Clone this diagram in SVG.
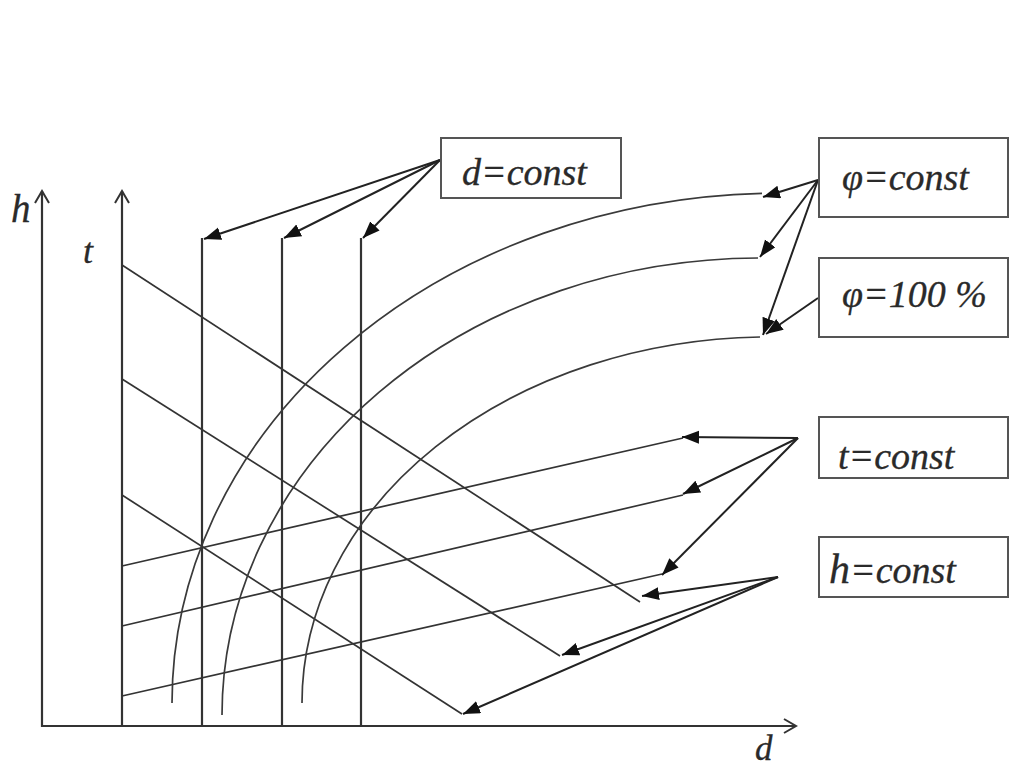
<svg xmlns="http://www.w3.org/2000/svg" width="1024" height="767" viewBox="0 0 1024 767">
<defs>
<marker id="ah" markerUnits="userSpaceOnUse" markerWidth="18" markerHeight="14" refX="17" refY="6.5" orient="auto">
<path d="M0,0 L17,6.5 L0,13 z" fill="#111"/>
</marker>
<marker id="open" markerUnits="userSpaceOnUse" markerWidth="16" markerHeight="18" refX="13" refY="8" orient="auto">
<path d="M1,1 L13,8 L1,15" fill="none" stroke="#333" stroke-width="2"/>
</marker>
<style>
.ax{stroke:#333;stroke-width:2.2;fill:none}
.ln{stroke:#333;stroke-width:1.7;fill:none}
.cv{stroke:#3a3a3a;stroke-width:1.7;fill:none}
.ar{stroke:#222;stroke-width:2;fill:none;marker-end:url(#ah)}
.box{fill:#fff;stroke:#555;stroke-width:2}
.lbl{font-family:"Liberation Serif",serif;font-style:italic;fill:#2a2a2a;stroke:#2a2a2a;stroke-width:0.3}
</style>
</defs>
<rect width="1024" height="767" fill="#fff"/>
<g id="axes">
<line class="ax" x1="42" y1="727" x2="42" y2="191" marker-end="url(#open)"/>
<line class="ax" x1="122" y1="727" x2="122" y2="191" marker-end="url(#open)"/>
<line class="ax" x1="42" y1="726" x2="796" y2="726" marker-end="url(#open)"/>
<text class="lbl" x="11" y="222" style="font-size:39px">h</text>
<text class="lbl" x="83" y="263" style="font-size:36px">t</text>
<text class="lbl" x="755" y="760" style="font-size:35px">d</text>
</g>
<g id="grid">
<line class="ax" x1="202" y1="238" x2="202" y2="726"/>
<line class="ax" x1="282" y1="238" x2="282" y2="726"/>
<line class="ax" x1="361" y1="238" x2="361" y2="726"/>
<line class="ln" x1="122" y1="566" x2="683" y2="438"/>
<line class="ln" x1="122" y1="626" x2="683" y2="495"/>
<line class="ln" x1="122" y1="696" x2="662" y2="574"/>
<line class="ln" x1="122" y1="265" x2="640" y2="602"/>
<line class="ln" x1="122" y1="379" x2="560" y2="656"/>
<line class="ln" x1="122" y1="495" x2="462" y2="714"/>
<path class="cv" d="M172,703 A608,510 0 0 1 762,193.3"/>
<path class="cv" d="M222,715 A538,457 0 0 1 758,258"/>
<path class="cv" d="M302,703 A468,366 0 0 1 760,337"/>
</g>
<g id="connectors">
<line class="ar" x1="440" y1="160" x2="204" y2="239"/>
<line class="ar" x1="440" y1="160" x2="284" y2="238"/>
<line class="ar" x1="440" y1="160" x2="363" y2="238"/>
<line class="ar" x1="818" y1="180" x2="763" y2="197"/>
<line class="ar" x1="818" y1="180" x2="760" y2="257"/>
<line class="ar" x1="818" y1="180" x2="763" y2="335"/>
<line class="ar" x1="818" y1="298" x2="766" y2="334"/>
<line class="ar" x1="798" y1="438" x2="682" y2="437"/>
<line class="ar" x1="798" y1="438" x2="683" y2="494"/>
<line class="ar" x1="798" y1="438" x2="662" y2="575"/>
<line class="ar" x1="778" y1="577" x2="642" y2="596"/>
<line class="ar" x1="778" y1="577" x2="562" y2="655"/>
<line class="ar" x1="778" y1="577" x2="463" y2="714"/>
</g>
<g id="d-const">
<rect class="box" x="441" y="138" width="180" height="60"/>
<text class="lbl" x="462" y="185" style="font-size:38px">d=const</text>
</g>
<g id="phi-const">
<rect class="box" x="819" y="138" width="189" height="79"/>
<text class="lbl" x="842" y="190" style="font-size:38px">φ=const</text>
</g>
<g id="phi-100">
<rect class="box" x="819" y="258" width="189" height="79"/>
<text class="lbl" x="842" y="307" style="font-size:38px">φ=100 %</text>
</g>
<g id="t-const">
<rect class="box" x="819" y="417" width="189" height="61"/>
<text class="lbl" x="838" y="469" style="font-size:38px">t=const</text>
</g>
<g id="h-const">
<rect class="box" x="819" y="537" width="189" height="60"/>
<text class="lbl" x="829" y="583" style="font-size:38px"><tspan style="font-size:42px">h</tspan>=const</text>
</g>
</svg>
